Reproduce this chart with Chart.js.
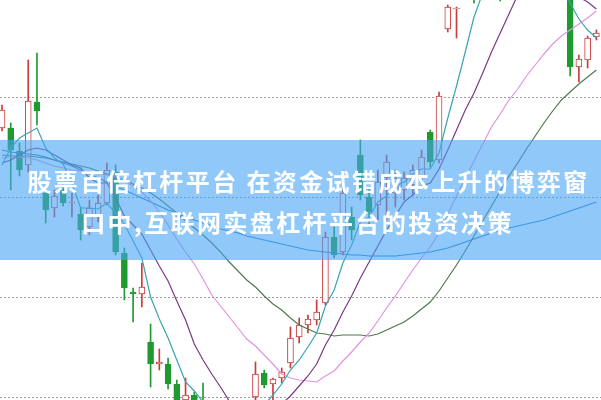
<!DOCTYPE html>
<html>
<head>
<meta charset="utf-8">
<script src="https://cdn.jsdelivr.net/npm/chart.js@4.4.1/dist/chart.umd.min.js"></script>
<style>
body{margin:0;background:#fff;}
#wrap{position:relative;width:601px;height:400px;overflow:hidden;}
#banner{position:absolute;left:0;top:140px;width:601px;height:120px;background:rgba(70,165,245,0.6);
  color:#fff;font-family:"Noto Sans CJK SC","Noto Sans",sans-serif;font-weight:700;font-size:24px;
  letter-spacing:2.4px;line-height:41px;text-align:center;padding-top:20px;box-sizing:border-box;white-space:nowrap;}
#banner span{position:relative;}
</style>
</head>
<body>
<div id="wrap">
<canvas id="kChart" width="601" height="400"></canvas>
<div id="banner"><span style="left:8px">股票百倍杠杆平台 在资金试错成本上升的博弈窗</span><br><span style="left:-3px">口中,互联网实盘杠杆平台的投资决策</span></div>
</div>
<script>
// candle values, one entry per trading day
var open=[8.69,8.69,8.46,8.32,8.95,8.04,7.89,8.07,7.94,7.83,7.70,7.80,7.94,8.25,7.44,7.05,7.03,6.55,6.33,6.33,
6.13,5.97,6.02,5.93,5.82,5.72,5.77,5.67,5.72,6.00,6.24,6.13,6.19,6.34,6.60,6.72,6.77,6.94,7.60,7.45,
7.80,8.42,8.00,7.92,8.19,8.04,8.07,8.12,8.19,8.65,8.37,9.68,9.88,10.00,10.27,10.09,10.19,10.32,10.19,10.35,
10.29,10.24,10.19,10.14,10.09,10.07,9.30,9.37,9.60];
var close=[8.87,8.47,8.27,8.96,8.86,7.87,8.01,7.94,7.95,7.67,7.89,7.94,8.27,7.45,7.09,7.03,7.10,6.33,6.35,6.13,
5.93,6.02,5.87,5.82,5.72,5.77,5.67,5.72,5.87,6.23,6.12,6.18,6.25,6.59,6.72,6.78,6.85,7.60,7.42,8.04,
7.67,8.02,7.85,8.15,8.35,8.19,8.19,8.27,8.40,8.35,9.01,9.90,9.89,10.12,10.07,10.22,10.27,10.17,10.32,10.27,
10.22,10.17,10.12,10.07,10.02,9.30,9.38,9.59,9.64];
var high=[8.92,8.74,8.54,9.37,9.44,8.10,8.07,8.12,8.04,7.90,7.97,8.02,8.34,8.32,7.49,7.09,7.34,6.73,6.48,6.39,
6.17,6.19,6.05,6.14,5.92,5.85,5.83,5.79,5.92,6.35,6.27,6.19,6.29,6.70,6.79,6.82,6.97,7.65,7.70,8.27,
7.90,8.57,8.10,8.27,8.42,8.27,8.25,8.32,8.47,8.67,9.05,9.92,9.90,10.37,10.42,10.42,10.47,10.52,10.52,10.57,
10.47,10.42,10.32,10.27,10.22,10.17,9.42,9.61,9.67];
var low=[8.66,8.07,8.21,8.25,8.72,7.74,7.80,7.91,7.80,7.57,7.62,7.75,7.92,7.42,6.97,6.75,6.90,6.10,6.27,6.08,
5.87,5.87,5.82,5.77,5.65,5.62,5.59,5.57,5.67,5.92,6.09,5.97,6.14,6.29,6.54,6.64,6.72,6.92,7.39,7.42,
7.57,7.97,7.70,7.77,7.77,7.90,7.97,8.02,8.14,8.30,8.34,9.65,9.59,9.98,9.94,10.02,10.12,9.96,10.12,10.17,
10.12,10.05,10.02,10.00,9.98,9.21,9.15,9.29,9.57];

// moving average lines
var ma5=[8.32,8.49,8.59,8.64,8.69,8.49,8.39,8.33,8.13,7.89,7.89,7.88,7.94,7.84,7.73,7.56,7.39,7.00,6.78,6.59,
6.37,6.15,6.06,5.95,5.87,5.84,5.77,5.74,5.75,5.85,5.92,6.02,6.13,6.27,6.37,6.50,6.64,6.91,7.07,7.34,
7.52,7.75,7.80,7.95,8.01,8.11,8.15,8.23,8.28,8.28,8.44,8.79,9.11,9.45,9.80,10.04,10.11,10.17,10.21,10.25,
10.25,10.23,10.22,10.17,10.12,9.94,9.78,9.67,9.59];
var ma10=[8.34,8.37,8.42,8.47,8.49,8.47,8.42,8.37,8.32,8.29,8.19,8.14,8.14,7.99,7.81,7.72,7.63,7.47,7.31,7.16,
6.96,6.77,6.53,6.37,6.23,6.10,5.96,5.90,5.85,5.86,5.88,5.90,5.93,6.01,6.11,6.21,6.33,6.52,6.67,6.85,
7.01,7.19,7.35,7.51,7.67,7.81,7.95,8.02,8.11,8.14,8.28,8.47,8.67,8.87,9.04,9.24,9.45,9.64,9.83,10.02,
10.15,10.17,10.20,10.19,10.19,10.09,10.00,9.95,9.88];
var ma20=[8.39,8.40,8.40,8.39,8.37,8.34,8.31,8.29,8.27,8.26,8.25,8.24,8.22,8.20,8.16,8.11,8.05,7.96,7.85,7.72,
7.58,7.45,7.33,7.18,7.02,6.91,6.80,6.69,6.58,6.51,6.42,6.33,6.23,6.19,6.17,6.16,6.15,6.21,6.26,6.36,
6.45,6.55,6.64,6.76,6.89,7.01,7.14,7.27,7.39,7.50,7.64,7.83,8.01,8.19,8.36,8.53,8.70,8.83,8.97,9.08,
9.21,9.32,9.43,9.53,9.61,9.67,9.73,9.79,9.86];
var ma30=[8.42,8.41,8.41,8.41,8.40,8.39,8.37,8.35,8.33,8.31,8.29,8.26,8.23,8.20,8.17,8.13,8.09,8.04,7.98,7.91,
7.84,7.76,7.69,7.62,7.54,7.45,7.35,7.26,7.17,7.10,7.01,6.93,6.87,6.79,6.72,6.68,6.64,6.63,6.61,6.62,
6.62,6.62,6.61,6.63,6.67,6.71,6.75,6.81,6.88,6.95,7.06,7.19,7.32,7.46,7.61,7.76,7.91,8.06,8.21,8.34,
8.48,8.61,8.74,8.86,8.97,9.05,9.13,9.20,9.27];
var ma60=[8.47,8.45,8.44,8.43,8.42,8.40,8.37,8.34,8.31,8.27,8.23,8.19,8.15,8.11,8.07,8.03,7.99,7.95,7.91,7.87,
7.84,7.80,7.77,7.74,7.71,7.68,7.66,7.64,7.61,7.59,7.57,7.55,7.53,7.51,7.49,7.47,7.46,7.45,7.44,7.43,
7.42,7.42,7.41,7.41,7.41,7.41,7.42,7.43,7.44,7.45,7.47,7.49,7.52,7.55,7.58,7.61,7.64,7.67,7.69,7.71,
7.73,7.75,7.77,7.80,7.83,7.86,7.89,7.92,7.95];

var gridValues=[6,7,8,9];

var upColor="#cc3b3b";
var downColor="#1f9a2e";

var wicks=[],bodies=[],candleColor=[],bodyFill=[];
for(var i=0;i<open.length;i++){
    wicks.push({x:i,y:[low[i],high[i]]});
    bodies.push({x:i,y:[open[i],close[i]]});
    var up=close[i]>=open[i];
    candleColor.push(up?upColor:downColor);
    bodyFill.push(up?"#ffffff":downColor);
}
function line(arr){
    var out=[];
    for(var i=0;i<arr.length;i++){ out.push({x:i,y:arr[i]}); }
    return out;
}
function maSet(label,arr,color,order){
    return {type:"line",label:label,data:line(arr),borderColor:color,borderWidth:1.2,
        pointRadius:0,tension:0,fill:false,order:order};
}

var ctx=document.getElementById("kChart").getContext("2d");
var kChart=new Chart(ctx,{
    type:"bar",
    data:{
        datasets:[
            maSet("MA5",ma5,"#3aa3b4",1),
            maSet("MA10",ma10,"#7a3a82",2),
            maSet("MA20",ma20,"#e094e0",3),
            maSet("MA30",ma30,"#4f7a4f",4),
            maSet("MA60",ma60,"#2f7fc8",5),
            {
                label:"body",
                data:bodies,
                backgroundColor:bodyFill,
                borderColor:candleColor,
                borderWidth:1,
                borderSkipped:false,
                barThickness:6,
                minBarLength:1,
                grouped:false,
                order:6
            },
            {
                label:"wick",
                data:wicks,
                backgroundColor:candleColor,
                borderWidth:0,
                barThickness:1,
                grouped:false,
                order:7
            }
        ]
    },
    options:{
        responsive:false,
        animation:false,
        layout:{padding:0},
        plugins:{legend:{display:false},tooltip:{enabled:false},title:{display:false}},
        scales:{
            x:{
                type:"linear",
                display:false,
                min:-0.229,
                max:68.53,
                offset:false
            },
            y:{
                min:5.97,
                max:9.97,
                afterBuildTicks:function(axis){
                    axis.ticks=gridValues.map(function(v){return {value:v};});
                },
                afterFit:function(axis){ axis.width=0; },
                ticks:{display:false},
                grid:{color:"#9a9a9a",lineWidth:1,drawTicks:false},
                border:{display:false,dash:[2,2]}
            }
        }
    }
});
</script>
</body>
</html>
